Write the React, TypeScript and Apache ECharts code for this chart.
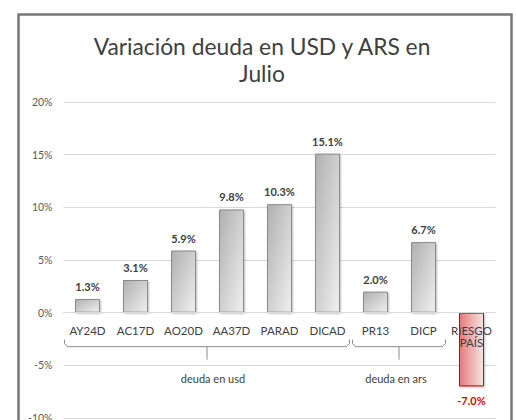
import React, { useEffect, useRef } from "react";
import * as echarts from "echarts";

const categories = ["AY24D", "AC17D", "AO20D", "AA37D", "PARAD", "DICAD", "PR13", "DICP", "RIESGO\nPAÍS"];
const values = [1.3, 3.1, 5.9, 9.8, 10.3, 15.1, 2.0, 6.7, -7.0];
const groupNames = ["deuda en usd", "deuda en ars"];
const groupRanges = [[0, 5], [6, 7]];
const titleText = "Variación deuda en USD y ARS en\nJulio";
const FONT = "Lato, 'Noto Sans', sans-serif";

export default function App() {
  const ref = useRef<HTMLDivElement>(null);
  useEffect(() => {
    if (!ref.current) return;
    const chart = echarts.init(ref.current, undefined, { renderer: "svg" });
    const grayFill = new echarts.graphic.LinearGradient(0, 0, 1, 1, [
      { offset: 0, color: "#b0b0b0" },
      { offset: 1, color: "#efefef" },
    ]);
    const redFill = new echarts.graphic.LinearGradient(0, 0, 1, 0, [
      { offset: 0, color: "#e67a7a" },
      { offset: 1, color: "#f8e4e4" },
    ]);
    const data = values.map((v) => {
      const neg = v < 0;
      return {
        value: v,
        itemStyle: neg
          ? { color: redFill, borderColor: "#b01010", borderWidth: 1 }
          : { color: grayFill, borderColor: "#8a8a8a", borderWidth: 1 },
        label: neg
          ? { position: "bottom", distance: 9, color: "#e00000" }
          : { position: "top", distance: 7, color: "#404040" },
      };
    });
    const gridBottomY = 418;
    chart.setOption({
      animation: false,
      textStyle: { fontFamily: FONT },
      title: {
        text: titleText,
        left: 257,
        textAlign: "center",
        top: 27,
        textStyle: { fontFamily: FONT, fontSize: 22.8, fontWeight: "normal", color: "#404040", lineHeight: 27 },
      },
      grid: { left: 63.5, right: 20.5, top: 102, bottom: 420 - gridBottomY, containLabel: false, outerBoundsMode: "none" },
      xAxis: {
        type: "category",
        data: categories,
        z: 5,
        axisLine: { show: true, onZero: false, lineStyle: { color: "#d9d9d9" } },
        axisTick: { show: false },
        axisLabel: { interval: 0, margin: 12, fontSize: 11.5, color: "#404040", lineHeight: 12, fontFamily: FONT },
      },
      yAxis: {
        type: "value",
        min: -10,
        max: 20,
        interval: 5,
        axisLine: { show: false },
        axisTick: { show: false },
        splitLine: { lineStyle: { color: "#d9d9d9" } },
        axisLabel: { formatter: "{value}%", fontSize: 10.5, color: "#595959", margin: 11, fontFamily: FONT },
      },
      series: [
        {
          type: "bar",
          data,
          barWidth: 25,
          itemStyle: { shadowBlur: 2, shadowColor: "rgba(0,0,0,0.25)", shadowOffsetX: 1, shadowOffsetY: 1 },
          label: {
            show: true,
            fontSize: 11,
            fontWeight: "bold",
            fontFamily: FONT,
            formatter: (p: any) => p.value.toFixed(1) + "%",
          },
        },
      ],
    });

    const zeroY = chart.convertToPixel({ yAxisIndex: 0 }, 0) as number;
    const toX = (i: number) => chart.convertToPixel({ xAxisIndex: 0 }, categories[i]) as number;
    const step = toX(1) - toX(0);
    const graphics: any[] = [
      {
        type: "rect",
        shape: { x: 18.5, y: 14.5, width: 493, height: 500 },
        style: { fill: "none", stroke: "#777777", lineWidth: 2.5 },
        z: 10,
      },
    ];
    groupRanges.forEach(([a, b], gi) => {
      const x1 = toX(a) - step / 2;
      const x2 = toX(b) + step / 2 - 1;
      const cx = (x1 + x2) / 2;
      const yTop = zeroY + 27;
      const yMid = zeroY + 34;
      graphics.push({
        type: "polyline",
        shape: {
          points: [
            [x1 + 1, yTop],
            [x1 + 1, yMid - 3],
            [x1 + 4, yMid],
            [x2 - 4, yMid],
            [x2 - 1, yMid - 3],
            [x2 - 1, yTop],
          ],
        },
        style: { stroke: "#8c8c8c", lineWidth: 1, fill: "none" },
      });
      graphics.push({
        type: "line",
        shape: { x1: cx, y1: yMid, x2: cx, y2: yMid + 13 },
        style: { stroke: "#8c8c8c", lineWidth: 1 },
      });
      graphics.push({
        type: "text",
        x: cx + (gi === 0 ? 6 : -3),
        y: zeroY + 66,
        style: {
          text: groupNames[gi],
          fill: "#404040",
          fontSize: 11,
          fontFamily: FONT,
          align: "center",
          verticalAlign: "middle",
        },
      });
    });
    chart.setOption({ xAxis: { offset: -(gridBottomY - zeroY) }, graphic: graphics });

    return () => chart.dispose();
  }, []);
  return <div ref={ref} style={{ position: "fixed", left: 0, top: 0, width: 516, height: 420, background: "#fff" }} />;
}
